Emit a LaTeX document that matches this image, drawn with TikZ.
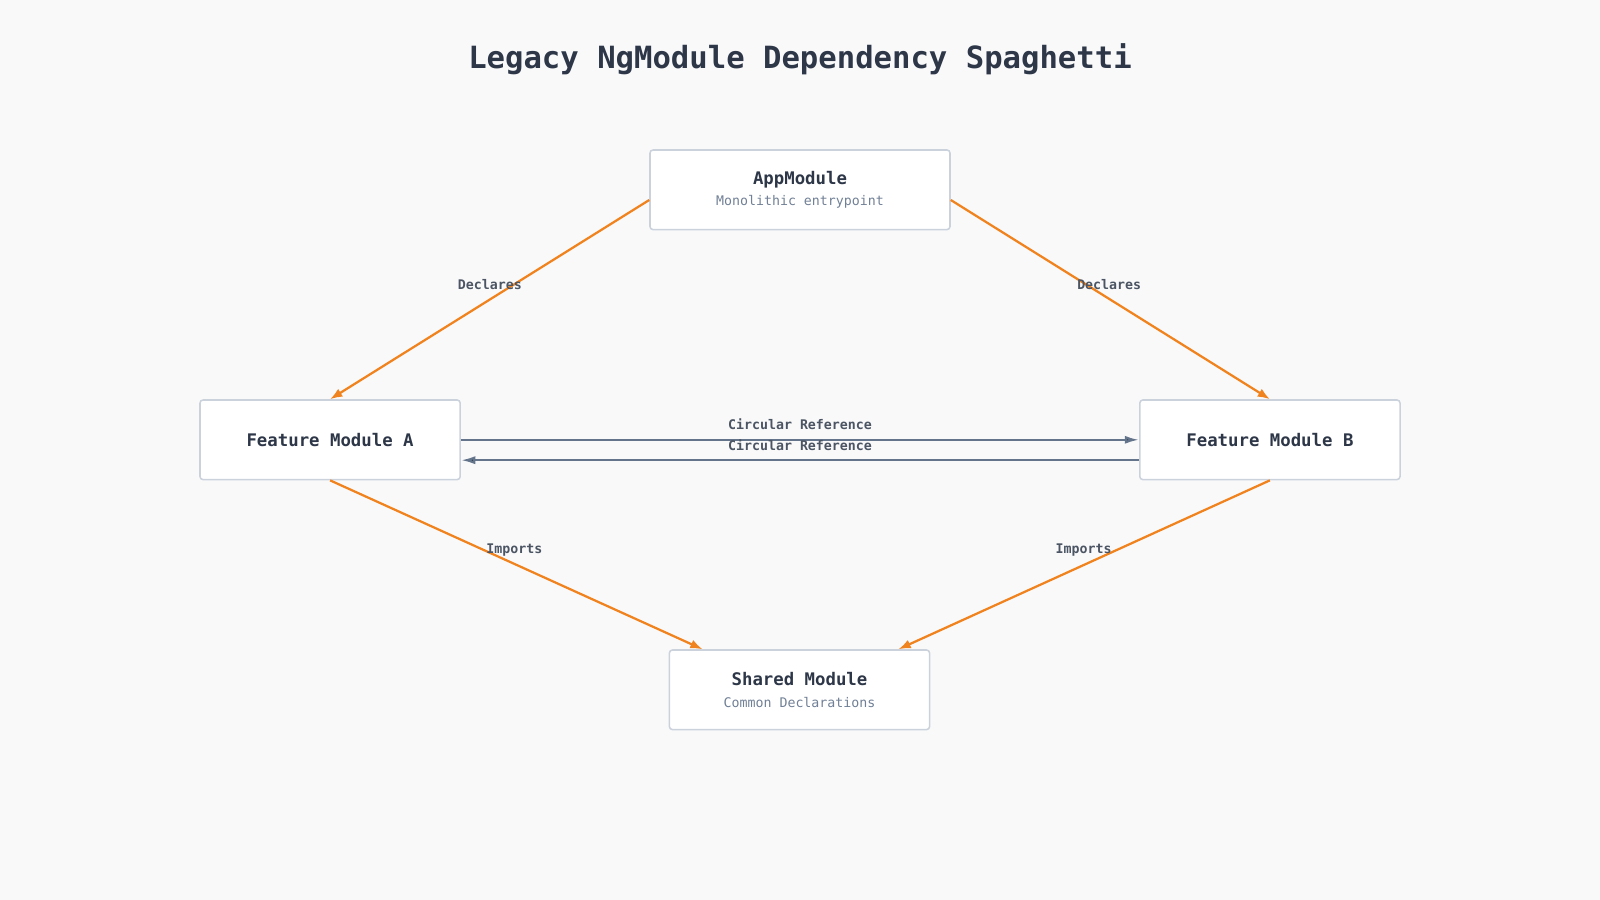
\documentclass[tikz,border=0pt]{standalone}
\usepackage{fontspec}
\setmainfont{DejaVu Sans Mono}
\usetikzlibrary{arrows.meta, positioning}
\definecolor{mbg}{HTML}{F9F9FA}
\definecolor{mtext}{HTML}{2D3748}
\definecolor{msub}{HTML}{718096}
\definecolor{mborder}{HTML}{CBD2DC}
\definecolor{morange}{HTML}{F0831E}
\definecolor{mline}{HTML}{64748B}
\tikzstyle{module} = [rectangle, rounded corners=3pt, draw=mborder, line width=1.5pt, fill=white, minimum height=78pt, text=mtext, align=center, font=\fontsize{17}{22}\selectfont\bfseries]
\tikzstyle{dep} = [draw=morange, line width=2.2pt, -{Latex[length=12pt,width=9pt]}]
\tikzstyle{circ} = [draw=mline, line width=2.2pt, -{Latex[length=14pt,width=8pt, fill=mtext]}]
\tikzstyle{lbl} = [font=\fontsize{13}{15}\selectfont\bfseries, text=mtext!85, inner sep=1pt]
\newcommand{\subline}[1]{\\[-1pt]{\fontsize{13}{16}\selectfont\mdseries\color{msub}#1}}

\begin{document}
\begin{tikzpicture}[x=1pt, y=-1pt]
  \fill[mbg] (0,0) rectangle (1568,882);
  \useasboundingbox (0,0) rectangle (1568,882);
  \node (title) at (784,58) [font=\fontsize{30}{36}\selectfont\bfseries, text=mtext] {Legacy NgModule Dependency Spaghetti};
  \node (app) at (784,186) [module, minimum width=294pt] {AppModule\subline{Monolithic entrypoint}};
  \node (fa) at (323.5,431) [module, minimum width=255pt] {Feature Module A};
  \node (fb) at (1244.5,431) [module, minimum width=255pt] {Feature Module B};
  \node (shared) at (783.5,676) [module, minimum width=255pt] {Shared Module\subline{Common Declarations}};
  \draw [dep] (app.west |- 0,196) -- (fa.north);
  \draw [dep] (app.east |- 0,196) -- (fb.north);
  \draw [dep] (fa.south) -- ([xshift=-95pt]shared.north);
  \draw [dep] (fb.south) -- ([xshift=97pt]shared.north);
  \draw [circ] (fa.east) -- (fb.west);
  \draw [circ] ([yshift=-20pt]fb.west) -- ([yshift=-20pt]fa.east);
  \node (l1) at (480,279) [lbl] {Declares};
  \node (l2) at (1087,279) [lbl] {Declares};
  \node (l3) at (504,539) [lbl] {Imports};
  \node (l4) at (1062,539) [lbl] {Imports};
  \node (l5) at (784,416) [lbl] {Circular Reference};
  \node (l6) at (784,436) [lbl] {Circular Reference};
\end{tikzpicture}
\end{document}
